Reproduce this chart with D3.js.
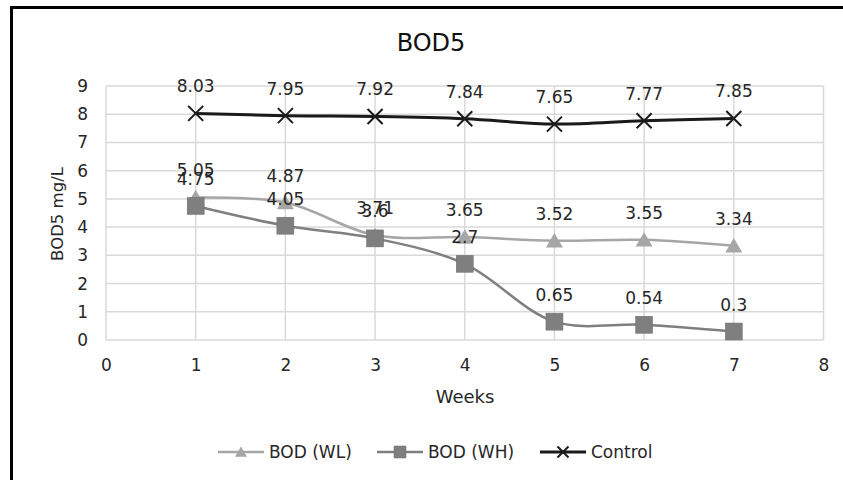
<!DOCTYPE html>
<html><head><meta charset="utf-8">
<script src="https://cdn.jsdelivr.net/npm/d3@7"></script>
<style>body{margin:0;background:#fff}svg{display:block}text{font-family:"DejaVu Sans",sans-serif}</style>
</head><body><svg id="c" width="843" height="480"></svg>
<script>
const weeks = [1,2,3,4,5,6,7];
const bodWL = [5.05,4.87,3.71,3.65,3.52,3.55,3.34];
const bodWH = [4.75,4.05,3.6,2.7,0.65,0.54,0.3];
const control = [8.03,7.95,7.92,7.84,7.65,7.77,7.85];
const xTicks = [0,1,2,3,4,5,6,7,8];
const yTicks = [0,1,2,3,4,5,6,7,8,9];
const seriesNames = ["BOD (WL)","BOD (WH)","Control"];

const svg = d3.select("#c");
const x = d3.scaleLinear().domain([0,8]).range([106,823.5]);
const y = d3.scaleLinear().domain([0,9]).range([340,86]);
const txt = "#262626";
const FONT = "DejaVu Sans, sans-serif";

// frame
svg.append("line").attr("x1",11).attr("x2",843).attr("y1",7.5).attr("y2",7.5).attr("stroke","#000").attr("stroke-width",3);
svg.append("line").attr("x1",11.5).attr("x2",11.5).attr("y1",6).attr("y2",480).attr("stroke","#000").attr("stroke-width",3);

// grid
const g = svg.append("g");
g.selectAll(".hg").data(yTicks).join("line").attr("x1",x(0)).attr("x2",x(8))
 .attr("y1",d=>y(d)).attr("y2",d=>y(d)).attr("stroke","#d9d9d9").attr("stroke-width",1.5);
g.selectAll(".vg").data(xTicks).join("line").attr("y1",y(0)).attr("y2",y(9))
 .attr("x1",d=>x(d)).attr("x2",d=>x(d)).attr("stroke","#d9d9d9").attr("stroke-width",1.5);

// axes labels via d3 axes
const ax = svg.append("g").attr("transform",`translate(0,${y(0)})`).call(d3.axisBottom(x).tickValues(xTicks).tickSize(0).tickPadding(19).tickFormat(d3.format("d")));
const ay = svg.append("g").attr("transform",`translate(${x(0)},0)`).call(d3.axisLeft(y).tickValues(yTicks).tickSize(0).tickPadding(18).tickFormat(d3.format("d")));
[ax,ay].forEach(a=>{a.select(".domain").remove();a.selectAll("text").attr("font-size",17).attr("fill",txt).attr("font-family",FONT);});

// titles
svg.append("text").attr("x",431).attr("y",51).attr("text-anchor","middle").attr("font-size",24).attr("fill","#111").text("BOD5");
svg.append("text").attr("x",465).attr("y",403).attr("text-anchor","middle").attr("font-size",18).attr("fill",txt).text("Weeks");
svg.append("text").attr("transform","translate(63,214) rotate(-90)").attr("text-anchor","middle").attr("font-size",16.5).attr("fill",txt).text("BOD5 mg/L");

const line = d3.line().x((d,i)=>x(weeks[i])).y(d=>y(d)).curve(d3.curveCatmullRom.alpha(0.5));
const series = [
 {name:seriesNames[0],vals:bodWL,color:"#a6a6a6",w:2.5,m:"tri"},
 {name:seriesNames[1],vals:bodWH,color:"#7f7f7f",w:2.5,m:"sq"},
 {name:seriesNames[2],vals:control,color:"#1a1a1a",w:3,m:"x"}
];
function marker(sel,type,color,s){
  if(type==="tri") sel.append("path").attr("d",`M0,${-s*0.45}L${s/2},${s*0.4}L${-s/2},${s*0.4}Z`).attr("fill",color);
  else if(type==="sq") sel.append("rect").attr("x",-s/2).attr("y",-s/2).attr("width",s).attr("height",s).attr("fill",color).attr("stroke","#6e6e6e").attr("stroke-width",0.5);
  else sel.append("path").attr("d",`M${-s/2},${-s/2}L${s/2},${s/2}M${-s/2},${s/2}L${s/2},${-s/2}`).attr("stroke",color).attr("stroke-width",2).attr("fill","none");
}
series.forEach(s=>{
  svg.append("path").attr("d",line(s.vals)).attr("fill","none").attr("stroke",s.color).attr("stroke-width",s.w);
});
series.forEach(s=>{
  s.vals.forEach((v,i)=>{
    const gg = svg.append("g").attr("transform",`translate(${x(weeks[i])},${y(v)})`);
    marker(gg,s.m,s.color,s.m==="tri"?17:(s.m==="sq"?17:15));
  });
});
series.forEach(s=>{
  svg.append("g").selectAll("text").data(s.vals).join("text")
   .attr("x",(d,i)=>x(weeks[i])).attr("y",d=>y(d)-21).attr("text-anchor","middle")
   .attr("font-size",17).attr("fill",txt).text(d=>d);
});

// legend
const leg = [{x:218},{x:377},{x:540}];
series.forEach((s,i)=>{
  const lx = leg[i].x, ly = 452;
  svg.append("line").attr("x1",lx).attr("x2",lx+46).attr("y1",ly).attr("y2",ly).attr("stroke",s.color).attr("stroke-width",s.w);
  const gg = svg.append("g").attr("transform",`translate(${lx+23},${ly})`);
  marker(gg,s.m,s.color,s.m==="x"?11:12);
  svg.append("text").attr("x",lx+51).attr("y",ly+6).attr("font-size",17).attr("fill",txt).text(s.name);
});
</script></body></html>
